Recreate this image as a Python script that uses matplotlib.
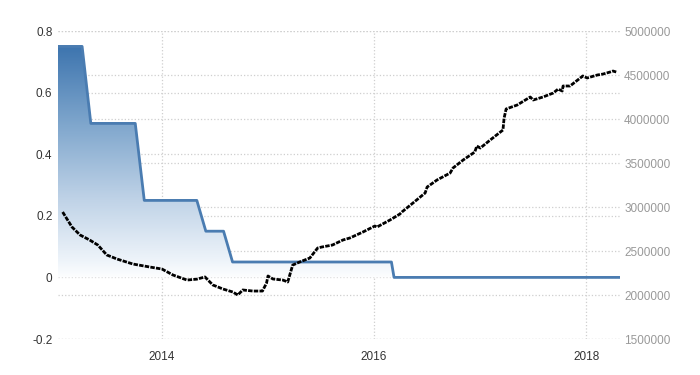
import matplotlib
matplotlib.use("Agg")
import numpy as np
import pandas as pd
import matplotlib.pyplot as plt
import matplotlib.dates as mdates
from matplotlib.colors import LinearSegmentedColormap
from matplotlib.transforms import blended_transform_factory

plt.rcParams["font.family"] = ["Liberation Sans Narrow", "Liberation Sans", "DejaVu Sans"]

# ECB refinancing rate (%), knots of the step line
rate_dates = ["2013-01-01", "2013-04-01", "2013-05-01", "2013-10-01", "2013-11-01",
              "2014-05-01", "2014-06-01", "2014-08-01", "2014-09-01", "2016-03-01",
              "2016-03-10", "2018-04-27"]
rate_values = [0.75, 0.75, 0.50, 0.50, 0.25, 0.25, 0.15, 0.15, 0.05, 0.05, 0.0, 0.0]

# ECB balance sheet (EUR million)
bs_dates = ["2013-01-24", "2013-02-25", "2013-03-25", "2013-04-27", "2013-05-25",
            "2013-06-25", "2013-07-30", "2013-09-23", "2013-11-20", "2014-01-01",
            "2014-02-08", "2014-03-28", "2014-05-01", "2014-05-29", "2014-06-25",
            "2014-07-30", "2014-09-02", "2014-09-19", "2014-10-06", "2014-11-10",
            "2014-12-13", "2014-12-27", "2015-01-01", "2015-01-18", "2015-02-21",
            "2015-03-10", "2015-03-27", "2015-04-20", "2015-05-25", "2015-06-21",
            "2015-07-05", "2015-08-11", "2015-09-16", "2015-10-10", "2015-11-24",
            "2016-01-04", "2016-01-11", "2016-02-25", "2016-03-30", "2016-04-06",
            "2016-05-14", "2016-06-25", "2016-07-02", "2016-08-05", "2016-09-19",
            "2016-09-29", "2016-11-03", "2016-12-13", "2016-12-20", "2017-01-01",
            "2017-02-04", "2017-03-20", "2017-03-24", "2017-03-31", "2017-05-08",
            "2017-06-22", "2017-07-02", "2017-08-05", "2017-09-09", "2017-09-26",
            "2017-10-10", "2017-10-13", "2017-11-06", "2017-12-20", "2018-01-04",
            "2018-02-08", "2018-02-28", "2018-03-24", "2018-04-03", "2018-04-14"]
bs_values = [2943000, 2773000, 2682000, 2625000, 2568000,
             2455000, 2409000, 2352000, 2318000, 2295000,
             2227000, 2170000, 2180000, 2205000, 2114000,
             2068000, 2034000, 2000000, 2057000, 2045000,
             2045000, 2136000, 2216000, 2182000, 2170000,
             2148000, 2340000, 2375000, 2420000, 2534000,
             2545000, 2568000, 2625000, 2648000, 2716000,
             2784000, 2772000, 2852000, 2920000, 2943000,
             3045000, 3159000, 3227000, 3307000, 3386000,
             3443000, 3534000, 3625000, 3693000, 3670000,
             3761000, 3875000, 4011000, 4114000, 4159000,
             4250000, 4216000, 4250000, 4295000, 4340000,
             4318000, 4375000, 4375000, 4489000, 4466000,
             4500000, 4511000, 4534000, 4545000, 4534000]

left_ticks = [-0.2, 0, 0.2, 0.4, 0.6, 0.8]
left_labels = ["-0.2", "0", "0.2", "0.4", "0.6", "0.8"]
right_ticks = [1500000, 2000000, 2500000, 3000000, 3500000, 4000000, 4500000, 5000000]
year_ticks = ["2014-01-01", "2016-01-01", "2018-01-01"]
year_labels = ["2014", "2016", "2018"]

rd = pd.to_datetime(rate_dates)
bd = pd.to_datetime(bs_dates)
grid_kw = dict(color="#cfcfcf", linestyle=":", linewidth=0.9)

fig = plt.figure(figsize=(7, 3.75), dpi=100)
ax = fig.add_axes([58 / 700, 1 - 339 / 375, 562 / 700, 308 / 375])
ax2 = ax.twinx()

xmin, xmax = pd.Timestamp("2013-01-08"), pd.Timestamp("2018-04-27")
ax.set_xlim(xmin, xmax)
ax.set_ylim(-0.2, 0.8)
ax2.set_ylim(1500000, 5000000)

# grids, all below the area fill
ax.set_axisbelow(True)
ax.grid(True, **grid_kw)
tr = blended_transform_factory(ax.transAxes, ax2.transData)
for v in right_ticks:
    ax.plot([0, 1], [v, v], transform=tr, zorder=0.5, **grid_kw)

# gradient area under the rate line
poly = ax.fill_between(rd, rate_values, 0, facecolor="none", edgecolor="none")
cmap = LinearSegmentedColormap.from_list(
    "bl", [(0, "#ffffff"), (0.08, "#eef4fa"), (0.35, "#bdd1e6"),
           (0.65, "#80a7cd"), (1, "#3a72ad")])
grad = np.linspace(0, 1, 256).reshape(-1, 1)
x0, x1 = mdates.date2num(rd[0]), mdates.date2num(rd[-1])
im = ax.imshow(grad, extent=[x0, x1, -0.01, 0.76], origin="lower", aspect="auto",
               cmap=cmap, zorder=1, interpolation="bicubic")
im.set_clip_path(poly.get_paths()[0], transform=ax.transData)
ax.set_xlim(xmin, xmax)
ax.set_ylim(-0.2, 0.8)
ax.plot(rd, rate_values, color="#4a7cb1", linewidth=2, zorder=2)

ax2.plot(bd, bs_values, color="black", linewidth=2.0, linestyle=(0, (1.6, 0.45)),
         dash_capstyle="butt")

ax.set_xticks(pd.to_datetime(year_ticks))
ax.set_xticklabels(year_labels)
ax.set_yticks(left_ticks)
ax.set_yticklabels(left_labels)
ax2.set_yticks(right_ticks)
ax2.set_yticklabels([str(v) for v in right_ticks])

ax.tick_params(axis="x", length=0, pad=9, labelsize=8.5, labelcolor="#333333")
ax.tick_params(axis="y", length=0, pad=4, labelsize=8.5, labelcolor="#333333")
ax2.tick_params(axis="y", length=0, pad=3, labelsize=8.5, labelcolor="#999999")
for a in (ax, ax2):
    for s in a.spines.values():
        s.set_visible(False)

fig.savefig("out.png", dpi=100)
